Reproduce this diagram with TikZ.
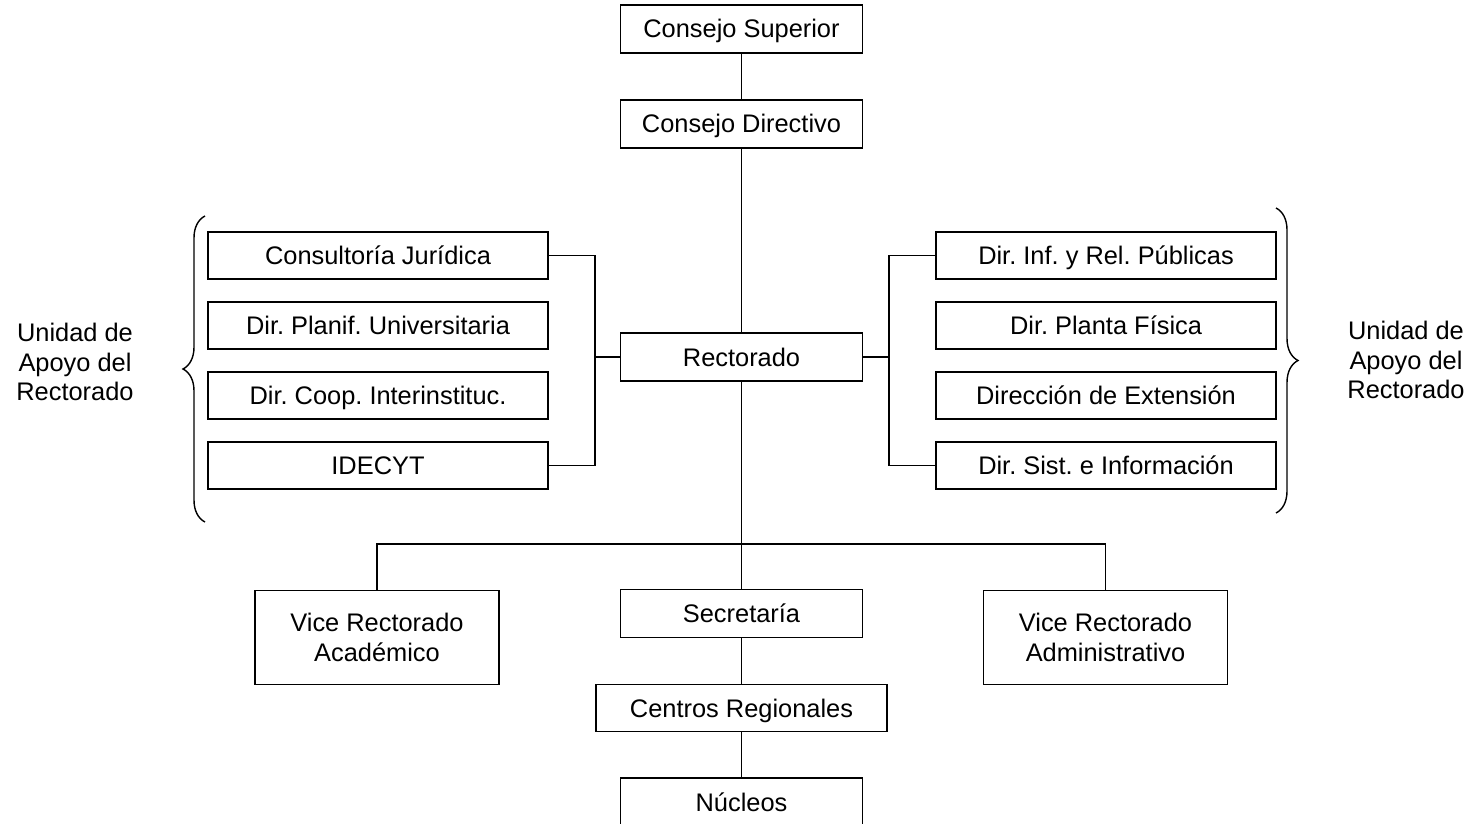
\documentclass[tikz,border=0pt]{standalone}
\usepackage{fontspec}
\setmainfont{Liberation Sans}
\usepackage{tikz}
\usetikzlibrary{decorations.pathreplacing}

\tikzset{
    frame/.style={draw, line width=0.85pt, inner sep=0pt, align=center},
    orgbox/.style={frame, minimum width=121pt, minimum height=24pt, text height=10pt, text depth=1pt},
    unitbox/.style={orgbox, minimum width=170pt, minimum height=23.5pt},
    vicebox/.style={frame, minimum width=122pt, minimum height=47pt},
    wide/.style={orgbox, minimum width=145.5pt, minimum height=23.5pt},
    link/.style={line width=0.85pt},
    curly/.style={line width=0.7pt, decorate, decoration={brace, amplitude=11pt}}
}

\begin{document}
\frenchspacing
\begin{tikzpicture}[x=0.5pt,y=-0.5pt,font=\fontsize{12.7}{15}\selectfont]
    \useasboundingbox (0,0) rectangle (1477,824);
    \node[orgbox] (sup) at (741.5,29) {Consejo Superior};
    \node[orgbox] (dir) at (741.5,124) {Consejo Directivo};
    \node[orgbox] (rect) at (741.5,357) {Rectorado};
    \foreach \t [count=\i] in {{Consultoría Jurídica},{Dir. Planif. Universitaria},{Dir. Coop. Interinstituc.},{IDECYT}}
        \node[unitbox] (l\i) at (378,185.5+70*\i) {\t};
    \foreach \t [count=\i] in {{Dir. Inf. y Rel. Públicas},{Dir. Planta Física},{Dirección de Extensión},{Dir. Sist. e Información}}
        \node[unitbox] (r\i) at (1106,185.5+70*\i) {\t};
    \node[vicebox] (vra) at (377,637.5) {Vice Rectorado\\Académico};
    \node[orgbox] (sec) at (741.5,613.5) {Secretaría};
    \node[vicebox] (vrad) at (1105.5,637.5) {Vice Rectorado\\Administrativo};
    \node[wide] (cen) at (741.5,708) {Centros Regionales};
    \node[orgbox] (nuc) at (741.5,802) {Núcleos};
    \node[align=center, font=\fontsize{12.7}{14.8}\selectfont] (lapoyo) at (75,362) {Unidad de\\Apoyo del\\Rectorado};
    \node[align=center, font=\fontsize{12.7}{14.8}\selectfont] (rapoyo) at (1406,360) {Unidad de\\Apoyo del\\Rectorado};

    \coordinate (lj) at (595,357);
    \coordinate (rj) at (889,357);
    \coordinate (hub) at (741.5,544);

    \draw[link] (sup) -- (dir);
    \draw[link] (dir) -- (rect);
    \draw[link] (l1.east) -| (lj) |- (l4.east);
    \draw[link] (lj) -- (rect.west);
    \draw[link] (r1.west) -| (rj) |- (r4.west);
    \draw[link] (rj) -- (rect.east);
    \draw[link] (rect) -- (sec);
    \draw[link] (vra.north) |- (hub) -| (vrad.north);
    \draw[link] (sec) -- (cen);
    \draw[link] (cen) -- (nuc);

    \draw[curly] (205,522) -- (205,216);
    \draw[curly] (1276,208) -- (1276,513);
\end{tikzpicture}
\end{document}
